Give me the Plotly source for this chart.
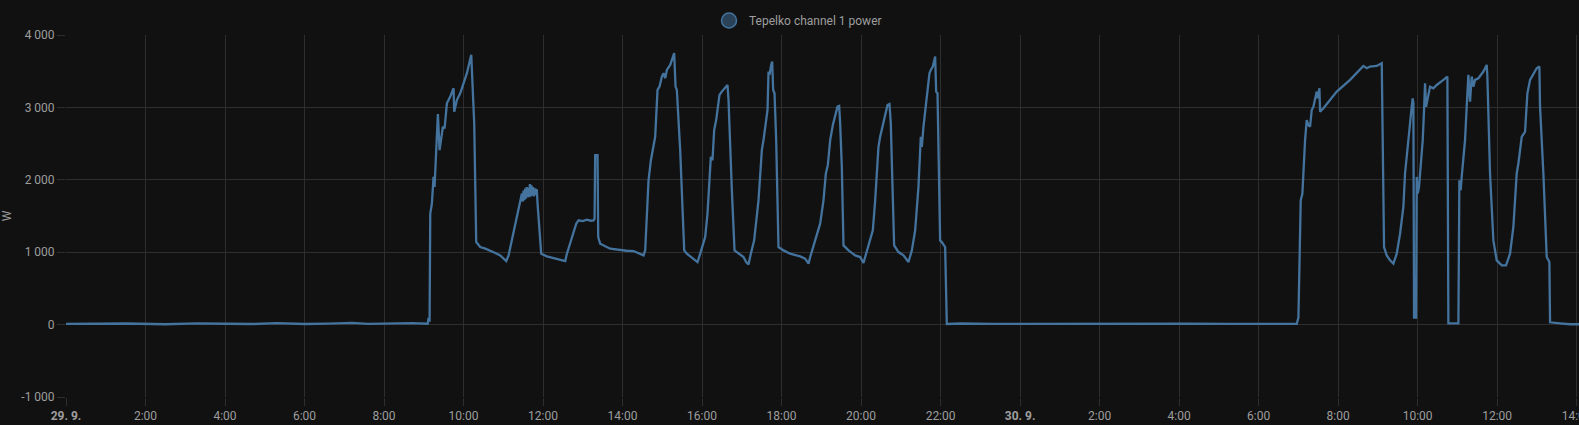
import pandas as pd
import plotly.graph_objects as go

# time in hours since 29.9. 00:00, power in W
t_hours = [
    0.0, 0.8, 1.5, 2.5, 3.3, 4.0, 4.7, 5.3, 6.0, 6.6, 7.2, 7.6, 8.0, 8.4, 8.7, 9.10, 9.121, 9.146,
    9.163, 9.204, 9.246, 9.271, 9.313, 9.355, 9.397, 9.439, 9.481, 9.523, 9.582, 9.666, 9.749, 9.766,
    9.833, 9.917, 10.001, 10.085, 10.194, 10.227, 10.269, 10.319, 10.420, 10.55, 10.672, 10.80, 10.923,
    11.074, 11.133, 11.426, 11.468, 11.49, 11.51, 11.53, 11.55, 11.57, 11.59, 11.61, 11.63, 11.65,
    11.67, 11.69, 11.71, 11.73, 11.75, 11.77, 11.79, 11.81, 11.83, 11.845, 11.862, 11.954, 12.097,
    12.22, 12.348, 12.45, 12.558, 12.600, 12.835, 12.893, 13.0, 13.1, 13.2, 13.271, 13.296, 13.312,
    13.371, 13.388, 13.438, 13.690, 13.9, 14.1, 14.277, 14.4, 14.528, 14.570, 14.654, 14.713, 14.821,
    14.880, 14.930, 14.989, 15.031, 15.073, 15.115, 15.199, 15.299, 15.333, 15.366, 15.450,
    15.551, 15.618, 15.785, 15.886, 15.953, 16.079, 16.137, 16.188, 16.221, 16.263, 16.305, 16.355,
    16.414, 16.439, 16.498, 16.582, 16.640, 16.666, 16.708, 16.750, 16.817, 16.917, 17.043, 17.110,
    17.169, 17.227, 17.311, 17.420, 17.462, 17.504, 17.546, 17.613, 17.647, 17.672, 17.697, 17.739,
    17.764, 17.789, 17.823, 17.865, 17.923, 18.050, 18.217, 18.35, 18.468, 18.594, 18.678, 18.720,
    18.845, 18.971, 19.055, 19.114, 19.164, 19.223, 19.290, 19.348, 19.407, 19.449, 19.474, 19.516,
    19.558, 19.684, 19.852, 19.977, 20.061, 20.103, 20.229, 20.296, 20.355, 20.438, 20.480, 20.547,
    20.606, 20.665, 20.715, 20.748, 20.782, 20.832, 20.941, 21.067, 21.193, 21.277, 21.361, 21.444,
    21.503, 21.528, 21.570, 21.654, 21.721, 21.755, 21.805, 21.864, 21.889, 21.923, 21.989, 22.031,
    22.115, 22.157, 22.5, 23.3, 24.2, 25.0, 26.1, 27.0, 28.2, 29.3, 30.3, 30.960, 31.002, 31.044,
    31.060, 31.102, 31.144, 31.169, 31.211, 31.253, 31.295, 31.337, 31.379, 31.421, 31.463, 31.488,
    31.530, 31.547, 31.631, 31.966, 32.301, 32.636, 32.720, 32.804, 32.972, 33.098, 33.123, 33.156,
    33.223, 33.307, 33.391, 33.475, 33.559, 33.642, 33.684, 33.726, 33.768, 33.810, 33.852, 33.877,
    33.894, 33.911, 33.961, 33.978, 34.003, 34.036, 34.078, 34.129, 34.162, 34.187, 34.213, 34.271,
    34.313, 34.397, 34.481, 34.649, 34.749, 34.774, 35.026, 35.051, 35.084, 35.109, 35.193, 35.235,
    35.277, 35.319, 35.361, 35.403, 35.445, 35.529, 35.655, 35.739, 35.755, 35.822, 35.906, 35.990,
    36.116, 36.224, 36.325, 36.409, 36.493, 36.535, 36.619, 36.703, 36.762, 36.829, 36.913, 36.996,
    37.063, 37.080, 37.164, 37.248, 37.315, 37.332, 37.583, 37.834, 38.06,
]
power_w = [
    10, 14, 15, 5, 18, 12, 8, 20, 8, 14, 25, 10, 15, 10, 20, 12, 92, 40,
    1533, 1671, 2040, 1902, 2548, 2909, 2410, 2548, 2733, 2710, 3056, 3149, 3264, 2941,
    3102, 3195, 3333, 3472, 3726, 3241, 2779, 1140, 1071, 1050, 1025, 990, 956,
    877, 956, 1671, 1810, 1700, 1850, 1720, 1880, 1740, 1900, 1760, 1890, 1760,
    1940, 1770, 1925, 1780, 1900, 1770, 1880, 1790, 1860, 1856, 1671, 979, 942,
    925, 910, 895, 877, 979, 1394, 1440, 1430, 1450, 1435, 1440, 1463, 2341,
    2341, 1209, 1117, 1048, 1030, 1020, 1016, 990, 956, 1025, 1994, 2271, 2594,
    3241, 3287, 3425, 3472, 3403, 3518, 3587, 3749, 3287, 3241, 2410,
    1025, 979, 910, 864, 979, 1209, 1533, 2087, 2317, 2271, 2687, 2825,
    3079, 3172, 3218, 3264, 3310, 3102, 2410, 1856, 1025, 979, 933, 864,
    831, 979, 1163, 1717, 2087, 2410, 2548, 2848, 2964, 3495, 3449, 3587,
    3633, 3241, 3195, 2548, 1071, 1025, 979, 960, 942, 910, 841, 933,
    1163, 1394, 1717, 2087, 2202, 2548, 2756, 2894, 3010, 3019, 2779, 2179,
    1094, 1025, 956, 933, 850, 933, 1163, 1302, 1717, 2456, 2594, 2756,
    2894, 3033, 3047, 2779, 2087, 1094, 1002, 956, 864, 1025, 1302, 1902,
    2594, 2456, 2733, 3195, 3472, 3518, 3564, 3703, 3218, 3195, 1163, 1140,
    1071, 9, 15, 10, 12, 8, 14, 10, 12, 9, 15, 12, 96, 1625,
    1717, 1810, 2317, 2548, 2825, 2756, 2733, 2964, 3010, 3102, 3218, 3125,
    3264, 2941, 2987, 3218, 3380, 3573, 3541, 3564, 3573, 3610, 2548, 1071,
    956, 887, 841, 979, 1256, 1625, 2087, 2341, 2548, 2779, 3010, 3125,
    3056, 96, 96, 2040, 1810, 1902, 2179, 2548, 2964, 3333, 3010, 3172,
    3287, 3264, 3310, 3380, 3426, 18, 18, 1994, 1856, 2040, 2548, 3010,
    3449, 3079, 3426, 3287, 3380, 3403, 3495, 3587, 3426, 2087, 1163, 887,
    818, 818, 979, 1348, 2087, 2225, 2594, 2664, 3195, 3380, 3472, 3541,
    3564, 3010, 2087, 933, 864, 32, 18, 5, 5,
]

series_name = "Tepelko channel 1 power"
unit = "W"
x_tick_hours = list(range(0, 39, 2))
x_tick_text = ["<b>29. 9.</b>", "2:00", "4:00", "6:00", "8:00", "10:00", "12:00", "14:00",
               "16:00", "18:00", "20:00", "22:00", "<b>30. 9.</b>", "2:00", "4:00", "6:00",
               "8:00", "10:00", "12:00", "14:00"]
y_tick_vals = [-1000, 0, 1000, 2000, 3000, 4000]
y_tick_text = ["-1 000", "0", "1 000", "2 000", "3 000", "4 000"]

base = pd.Timestamp("2023-09-29 00:00")
times = base + pd.to_timedelta(t_hours, unit="h")
tick_times = base + pd.to_timedelta(x_tick_hours, unit="h")

LINE = "#44739e"
GRID = "#2e2e2e"
TXT = "#9e9e9e"

fig = go.Figure()
fig.add_trace(go.Scatter(x=times, y=power_w, mode="lines",
                         line=dict(color=LINE, width=2.3), showlegend=False))
fig.add_trace(go.Scatter(x=[None], y=[None], mode="markers", name=series_name,
                         marker=dict(symbol="circle", size=15, color="rgba(68,115,158,0.5)",
                                     line=dict(color=LINE, width=1.5))))

fig.update_layout(
    width=1579, height=425,
    margin=dict(l=66, r=0, t=35, b=28, autoexpand=False),
    paper_bgcolor="#111111", plot_bgcolor="#111111",
    font=dict(family="Roboto", size=12, color=TXT),
    legend=dict(orientation="h", x=0.425, xanchor="left", y=1.0, yanchor="bottom",
                font=dict(size=12, color=TXT), bgcolor="rgba(0,0,0,0)"),
    xaxis=dict(type="date", range=[base, base + pd.Timedelta(hours=38.06)],
               tickmode="array", tickvals=tick_times, ticktext=x_tick_text,
               showgrid=True, gridcolor=GRID, gridwidth=1,
               ticks="outside", ticklen=8, tickcolor=GRID, showline=False,
               ticklabeloverflow="allow", automargin=False,
               zeroline=False, tickfont=dict(size=12, color=TXT)),
    yaxis=dict(range=[-1000, 4000], tickmode="array", tickvals=y_tick_vals, ticktext=y_tick_text,
               showgrid=True, gridcolor=GRID, gridwidth=1, zeroline=False,
               ticks="outside", ticklen=8, tickcolor=GRID, showline=False, automargin=False,
               title=dict(text=unit, font=dict(size=12, color=TXT), standoff=16),
               tickfont=dict(size=12, color=TXT)),
)

fig.write_html(
    "out.html",
    config={"displayModeBar": False},
    post_script="document.body.style.margin='0';document.body.style.padding='0';"
                "document.body.style.background='#111111';document.body.style.overflow='hidden';",
)
